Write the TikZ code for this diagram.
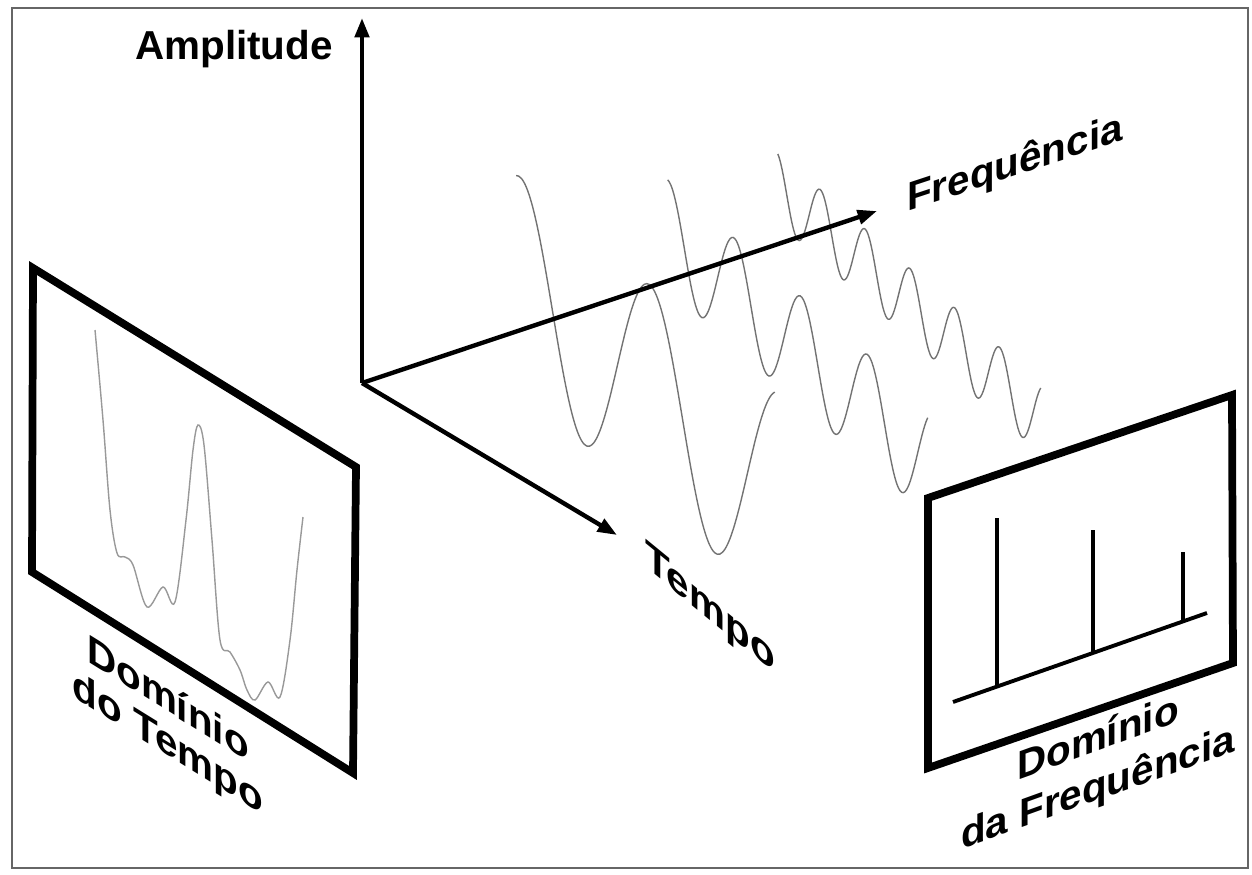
\documentclass[tikz,border=0pt]{standalone}
\usepackage{fontspec}
\setmainfont{Liberation Sans}
\usetikzlibrary{arrows.meta}

\begin{document}
\begin{tikzpicture}[x=0.02cm, y=-0.02cm,
  axis/.style={line width=2.5pt, -{Triangle[length=11pt, width=8pt]}},
  panel/.style={line width=4.4pt, line join=miter},
  wave/.style={black!55, line width=0.8pt},
  spike/.style={line width=2.5pt},
  lbl/.style={font=\fontsize{23}{23}\selectfont\bfseries, inner sep=0pt}]
  \useasboundingbox (0,0) rectangle (1252,875);
  % outer frame
  \draw[black!60, line width=1.2pt] (12,8) rectangle (1248,868);

  % the three sinusoids, drawn along the time direction
  \draw[wave] plot[domain=-0.45:5.42, samples=220, smooth]
    ({798+44.8*\x}, {205+39.4*\x+35*cos(360*\x)});
  \draw[wave] plot[domain=-0.5:3.4, samples=160, smooth]
    ({701+66.7*\x}, {263+58.3*\x+54*cos(360*\x)});
  \draw[wave] plot[domain=-0.53:1.46, samples=100, smooth]
    ({585+130*\x}, {338+108*\x+107*cos(360*\x)});

  % axes
  \coordinate (O) at (362,383);
  \coordinate (ampTip) at (362,18);
  \coordinate (freqTip) at (877,211);
  \coordinate (tempoTip) at (617,535);
  \draw[axis] (O) -- (ampTip);
  \draw[axis] (O) -- (freqTip);
  \draw[axis] (O) -- (tempoTip);
  \node[lbl, anchor=base] (ampLbl) at (234,60) {Amplitude};
  \node[lbl, anchor=base, yslant=0.33] (freqLbl) at (1015,176) {Frequência};
  \node[lbl, anchor=base, yslant=-0.82] (tempoLbl) at (710,620) {Tempo};

  % time domain panel
  \draw[panel] (33,268) -- (356,467) -- (353,773) -- (32,572) -- cycle;
  \draw[wave, black!40] plot[smooth, tension=0.55] coordinates {
    (95,330) (103,420) (110,510) (117,553) (125,557) (133,565) (147,607)
    (163,587) (175,602) (186,520) (193,450) (198,425) (204,445) (212,540)
    (220,640) (230,652) (240,670) (247,690) (255,700) (268,682) (280,697)
    (290,640) (297,570) (303,517)};
  \node[lbl, align=center, yslant=-0.62, font=\fontsize{23}{25}\selectfont\bfseries]
    (timeDom) at (168,723) {Domínio\\do Tempo};

  % frequency domain panel
  \draw[panel] (928,498) -- (1232,395) -- (1233,663) -- (928,768) -- cycle;
  \coordinate (specL) at (953,702);
  \coordinate (specR) at (1207,613);
  \draw[line width=2.2pt] (specL) -- (specR);
  \foreach \sx/\st in {997/518, 1093/530, 1183/552}
    \draw[spike] (\sx,{702-0.35*(\sx-953)}) -- (\sx,\st);
  \node[lbl, align=center, yslant=0.36, font=\fontsize{23}{28}\selectfont\bfseries]
    (freqDom) at (1098,765) {Domínio\\da Frequência};
\end{tikzpicture}
\end{document}
